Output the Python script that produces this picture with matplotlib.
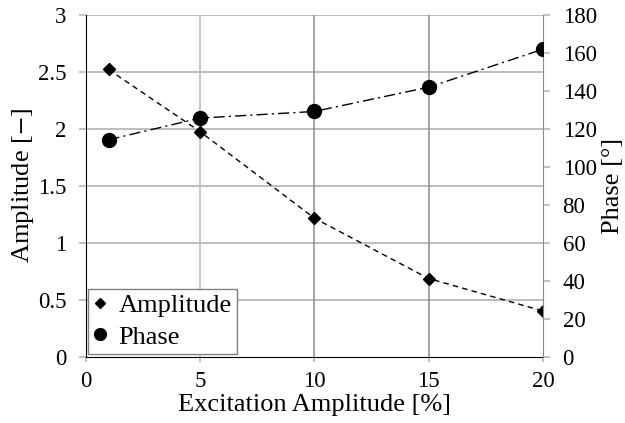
import numpy as np
import matplotlib
matplotlib.use('Agg')
import matplotlib.pyplot as plt

plt.rcParams['font.family'] = ['Liberation Serif', 'DejaVu Serif']
plt.rcParams['mathtext.fontset'] = 'stix'

# values
excitation = [1, 5, 10, 15, 20]
amplitude = [2.52, 1.975, 1.215, 0.685, 0.40]
phase = [114.2, 125.6, 129.1, 141.9, 161.9]

fig = plt.figure(figsize=(6.25, 4.23), dpi=100)
ax = fig.add_axes([0.137, 0.157, 0.732, 0.808])
ax2 = ax.twinx()

grid_light = '#b8b8b8'
grid_dark = '#8c8c8c'

# grid lines drawn by hand so that some verticals can be darker
for y in np.arange(0.5, 3.01, 0.5):
    ax.axhline(y, color=grid_light, lw=1.3, zorder=0)
for x, c in zip([5, 10, 15], [grid_light, grid_dark, grid_dark]):
    ax.axvline(x, color=c, lw=1.1, zorder=0)

l1, = ax.plot(excitation, amplitude, color='black', ls=(0, (4, 3)), lw=1,
              marker='D', ms=6.5, zorder=3, label='Amplitude')
l2, = ax2.plot(excitation, phase, color='black', ls=(0, (8, 3, 1.5, 3)), lw=1,
               marker='o', ms=10, zorder=3, label='Phase')

ax.set_xlim(0, 20)
ax.set_ylim(0, 3)
ax2.set_ylim(0, 180)
ax.set_xticks(np.arange(0, 21, 5))
ax.set_yticks(np.arange(0, 3.01, 0.5))
ax.set_yticklabels(['0', '0.5', '1', '1.5', '2', '2.5', '3'])
ax2.set_yticks(np.arange(0, 181, 20))

ax.set_xlabel('Excitation Amplitude [%]', fontsize=19, labelpad=1)
ax.set_ylabel('Amplitude [$-$]', fontsize=19, labelpad=1)
ax2.set_ylabel('Phase [°]', fontsize=19, labelpad=4)

for a in (ax, ax2):
    a.tick_params(axis='y', labelsize=16.5, length=5, width=1.2,
                  color=grid_light, pad=9)
    a.spines['top'].set_visible(False)
ax.tick_params(axis='x', labelsize=16.5, length=3.6, width=1.2,
               color=grid_light, pad=7)
ax.spines['left'].set_color('black')
ax.spines['bottom'].set_color('black')
ax.spines['right'].set_visible(False)
ax2.spines['left'].set_visible(False)
ax2.spines['bottom'].set_visible(False)
ax2.spines['right'].set_color(grid_dark)

leg = ax2.legend([l1, l2], ['Amplitude', 'Phase'], loc='lower left',
                 fontsize=19, frameon=True, fancybox=False, framealpha=1,
                 edgecolor='#808080', borderaxespad=0.1, borderpad=0.2,
                 handlelength=0.5, handletextpad=0.45, labelspacing=0.3,
                 markerscale=0.85)
for h in leg.legend_handles:
    h.set_linestyle('none')
leg.get_frame().set_linewidth(1)

fig.savefig('out.png', dpi=100)
